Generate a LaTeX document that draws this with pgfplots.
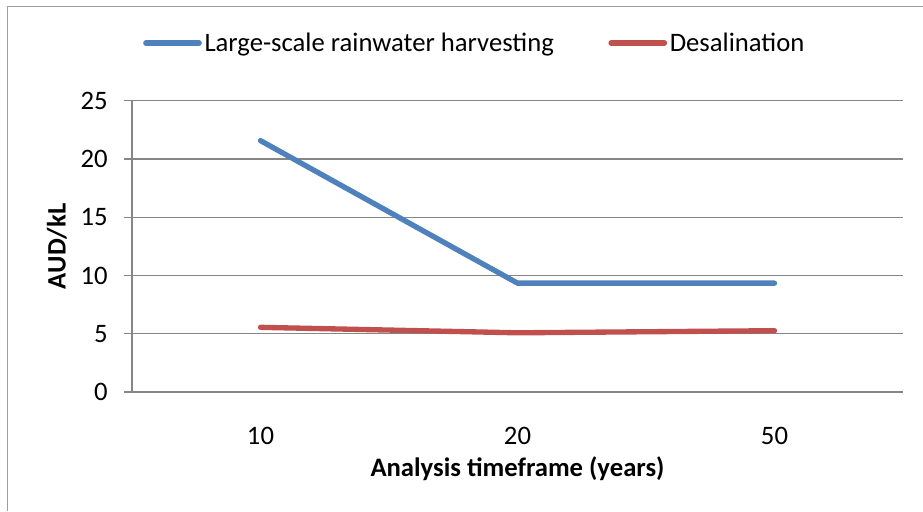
\documentclass[border=0pt]{standalone}
\usepackage{pgfplots}
\pgfplotsset{compat=1.18}
\usepackage{fontspec}
\setmainfont{Carlito}
\definecolor{cblue}{HTML}{4F81BD}
\definecolor{cred}{HTML}{C0504D}
\definecolor{cgrid}{HTML}{868686}
\begin{document}
\begin{tikzpicture}[font=\fontsize{20}{24}\selectfont]
\path[use as bounding box] (0pt,0pt) rectangle (692.25pt,383.25pt);
\draw[cgrid!80,line width=0.75pt] (5.25pt,0pt) -- (5.25pt,378pt) -- (692.25pt,378pt);
\begin{axis}[
  at={(99pt,89.25pt)}, anchor=south west,
  scale only axis, width=578.25pt, height=218.5pt,
  xmin=-0.5, xmax=2.5, ymin=0, ymax=25,
  xtick={0,1,2}, xticklabels={10,20,50},
  ytick={0,5,10,15,20,25},
  axis lines=left, axis line style={-, cgrid, line width=0.9pt},
  ymajorgrids, grid style={cgrid, line width=0.9pt},
  x tick style={draw=none},
  y tick style={cgrid, line width=0.9pt},
  tick align=outside, major tick length=6pt,
  /pgf/number format/assume math mode=true,
  xticklabel style={anchor=center, yshift=-27pt},
  yticklabel style={anchor=east, inner sep=0pt, xshift=-12pt},
  xlabel={\bfseries Analysis timeframe (years)},
  ylabel={\bfseries AUD/kL},
  xlabel style={at={(axis description cs:0.5,-0.264)}, anchor=center},
  ylabel style={at={(axis description cs:-0.0973,0.5)}, anchor=center, rotate=0},
  legend columns=2,
  legend style={at={(axis description cs:0.445,1.198)}, anchor=center, draw=none, fill=none,
    /tikz/every even column/.append style={column sep=39pt}},
  legend cell align=left,
  legend image code/.code={\draw[#1, line cap=round] (0pt,0pt) -- (40pt,0pt);},
]
\addplot[cblue, line width=4pt, line cap=round, line join=round] coordinates {(0,21.57) (1,9.34) (2,9.34)};
\addlegendentry{Large-scale rainwater harvesting}
\addplot[cred, line width=4pt, line cap=round, line join=round] coordinates {(0,5.55) (1,5.08) (2,5.26)};
\addlegendentry{Desalination}
\end{axis}
\end{tikzpicture}
\end{document}
